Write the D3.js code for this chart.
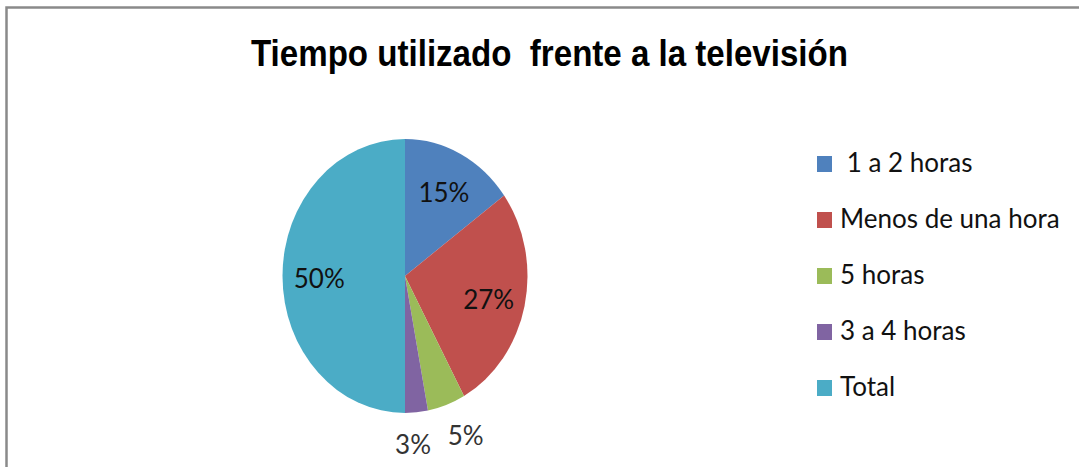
<!DOCTYPE html>
<html>
<head>
<meta charset="utf-8">
<script src="https://cdn.jsdelivr.net/npm/d3@7"></script>
<style>
  body { margin: 0; background: #fff; }
  svg { display: block; }
</style>
</head>
<body>
<div id="chart"></div>
<script>
// data
var categories = [" 1 a 2 horas", "Menos de una hora", "5 horas", "3 a 4 horas", "Total"];
var values = [15, 27, 5, 3, 50];
var colors = ["#4F81BD", "#C0504D", "#9BBB59", "#8064A2", "#4BACC6"];

var svgWidth = 1079;
var svgHeight = 467;

var svg = d3.select("#chart").append("svg")
    .attr("width", svgWidth)
    .attr("height", svgHeight);

// frame (only left and top edges visible)
svg.append("path")
    .attr("d", "M6.5,467 V7.5 H1079")
    .attr("fill", "none")
    .attr("stroke", "#8a8a8a")
    .attr("stroke-width", 2.5);

// title
svg.append("text")
    .attr("x", 251)
    .attr("y", 66)
    .attr("textLength", 597)
    .attr("lengthAdjust", "spacingAndGlyphs")
    .style("white-space", "pre")
    .attr("font-family", "Liberation Sans, Arial, sans-serif")
    .attr("font-weight", "bold")
    .attr("font-size", "36px")
    .attr("fill", "#000")
    .text("Tiempo utilizado  frente a la televisión");

// pie (elliptical: ry > rx)
var cx = 405, cy = 276;
var rx = 122.5, ry = 137;

var pie = d3.pie().sort(null).value(d => d);
var arcs = pie(values);

var arc = d3.arc().innerRadius(0).outerRadius(ry);

var pieGroup = svg.append("g")
    .attr("transform", `translate(${cx}, ${cy}) scale(${rx / ry}, 1)`);

pieGroup.selectAll("path")
    .data(arcs)
    .enter()
    .append("path")
    .attr("d", arc)
    .attr("fill", (d, i) => colors[i]);

// labels: inside for big slices, outside for small ones
var innerLabelArc = d3.arc().innerRadius(ry * 1.4).outerRadius(0);
var outerLabelArc = d3.arc().innerRadius(ry * 1.22).outerRadius(ry * 1.22);
var outerNudge = [0, 0, 10, -6, 0];

svg.append("g")
    .selectAll("text")
    .data(arcs)
    .enter()
    .append("text")
    .attr("transform", function (d, i) {
        var c = d.value >= 10 ? innerLabelArc.centroid(d) : outerLabelArc.centroid(d);
        var x = cx + c[0] * rx / ry + outerNudge[i];
        var y = cy + c[1];
        return `translate(${x}, ${y})`;
    })
    .attr("text-anchor", "middle")
    .attr("dy", "0.45em")
    .attr("font-family", "Lato, sans-serif")
    .attr("font-size", "26px")
    .attr("fill", (d) => d.value >= 10 ? "#111" : "#333")
    .text(d => d.value + "%");

// legend
var legendY = d3.scalePoint()
    .domain(categories)
    .range([172, 396]);

var legend = svg.append("g");

legend.selectAll("rect")
    .data(categories)
    .enter()
    .append("rect")
    .attr("x", 817)
    .attr("y", d => legendY(d) - 16)
    .attr("width", 15)
    .attr("height", 16)
    .attr("fill", (d, i) => colors[i]);

legend.selectAll("text")
    .data(categories)
    .enter()
    .append("text")
    .attr("x", 840)
    .attr("y", d => legendY(d))
    .style("white-space", "pre")
    .attr("font-family", "Lato, sans-serif")
    .attr("font-size", "26px")
    .attr("fill", "#111")
    .text(d => d);
</script>
</body>
</html>
